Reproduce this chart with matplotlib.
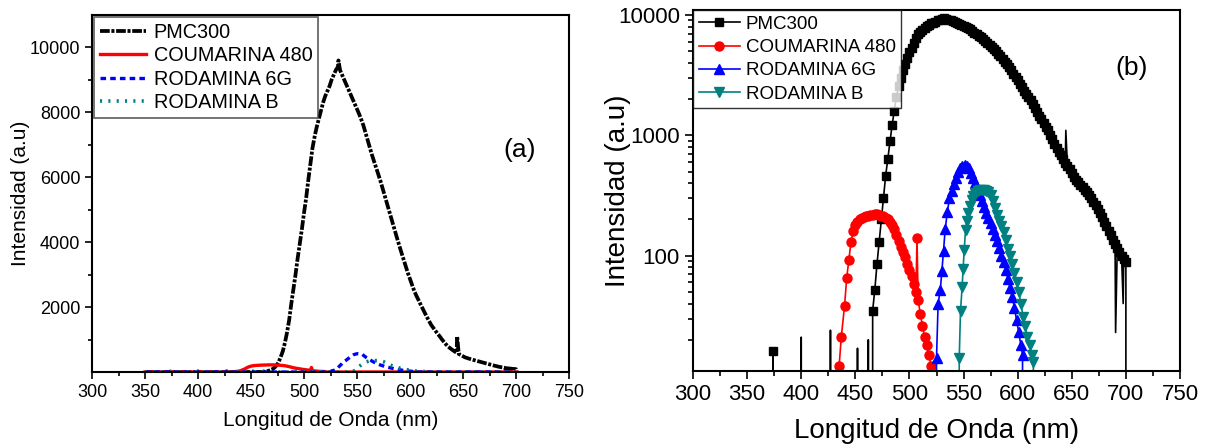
import numpy as np
import matplotlib
matplotlib.use("Agg")
import matplotlib.pyplot as plt
from matplotlib.ticker import MultipleLocator, FixedLocator, NullFormatter, FuncFormatter

plt.rcParams['font.family'] = ['Liberation Sans', 'DejaVu Sans']
plt.rcParams['lines.scale_dashes'] = False

# PMC300 spectrum, 2 nm grid
pmc_grid_wl = np.arange(464, 702, 2)
pmc_grid_val = [0, 35, 52, 85, 130, 200, 300, 460, 640, 900,
                1220, 1600, 2100, 2550, 3000, 3500, 3950, 4400, 4900, 5350,
                5900, 6400, 6900, 7250, 7550, 7800, 8050, 8300, 8500, 8650,
                8800, 9000, 9150, 9300, 9400, 9300, 9150, 9000, 8850, 8700,
                8550, 8400, 8250, 8100, 7950, 7780, 7600, 7380, 7150, 6920,
                6700, 6500, 6300, 6100, 5900, 5680, 5450, 5220, 5000, 4780,
                4550, 4320, 4100, 3880, 3670, 3460, 3250, 3050, 2860, 2680,
                2500, 2350, 2220, 2080, 1950, 1820, 1690, 1570, 1450, 1360,
                1270, 1180, 1100, 1010, 930, 850, 780, 730, 680, 635,
                590, 555, 520, 485, 450, 428, 408, 388, 370, 352,
                335, 318, 300, 280, 262, 243, 225, 208, 192, 176,
                160, 148, 136, 125, 115, 108, 100, 94, 88]
# baseline and noise spikes of PMC300
pmc_base_wl = [350, 373, 375, 399, 401, 426, 428, 451, 453, 461, 463]
pmc_spike_wl = [374, 400, 427, 452, 462, 532.5, 644.5, 690.5, 697.5, 701]
pmc_spike_val = [16, 21, 24, 17, 20, 9600, 1100, 23, 40, 0]

cou_wl = [350, 434, 435, 437, 440, 442, 444, 446, 448, 450,
          452, 454, 456, 458, 460, 462, 464, 466, 468, 470,
          472, 474, 476, 478, 480, 482, 484, 486, 488, 490,
          492, 494, 496, 498, 500, 502, 504, 506, 507, 508,
          510, 512, 514, 516, 518, 520, 521, 700]
cou_val = [0, 0, 12, 21, 38, 65, 92, 130, 160, 180,
           192, 200, 205, 208, 212, 214, 216, 218, 220, 220,
           218, 215, 212, 206, 200, 192, 180, 165, 148, 132,
           118, 107, 97, 86, 76, 68, 58, 50, 140, 43,
           33, 26, 21, 18, 15, 12, 0, 0]

r6g_wl = [350, 524, 525, 526.5, 528.5, 530, 531.5, 533, 535, 537,
          539, 541, 543, 545, 547, 549, 551, 553, 555, 557,
          559, 561, 563, 565, 567, 569, 571, 573, 575, 577,
          579, 581, 583, 585, 587, 589, 591, 593, 595, 597,
          599, 601, 603, 604.5, 605.5, 700]
r6g_val = [0, 0, 14, 40, 52, 75, 110, 165, 230, 300,
           345, 395, 445, 495, 535, 555, 566, 560, 540, 490,
           440, 400, 360, 320, 285, 255, 228, 205, 185, 165,
           148, 132, 116, 100, 88, 76, 64, 54, 45, 37,
           29, 23, 18, 15, 0, 0]

rb_wl = [350, 545, 546, 547.2, 548.7, 549.6, 550.6, 551.8, 553, 554.3,
         556, 557.4, 559, 561, 563, 565, 567, 569, 571, 573,
         575, 577, 579, 581, 583, 585, 587, 589, 591, 593,
         595, 597, 599, 601, 603, 605, 607, 609, 611, 613,
         614.5, 615.5, 700]
rb_val = [0, 0, 14, 35, 55, 78, 111, 163, 195, 225,
          260, 290, 315, 333, 342, 348, 351, 350, 345, 336,
          318, 285, 250, 218, 195, 175, 158, 135, 114, 100,
          86, 72, 60, 50, 40, 31, 26, 21, 18, 15,
          13, 0, 0]

labels = ['PMC300', 'COUMARINA 480', 'RODAMINA 6G', 'RODAMINA B']
colors = ['black', '#ff0000', '#0000ff', '#008080']

# merge PMC300 pieces
pmc_wl = np.concatenate([pmc_grid_wl, pmc_base_wl, pmc_spike_wl])
pmc_val = np.concatenate([pmc_grid_val, np.zeros(len(pmc_base_wl)), pmc_spike_val])
order = np.argsort(pmc_wl, kind='stable')
pmc_wl = pmc_wl[order]
pmc_val = pmc_val[order]
is_grid = np.concatenate([np.ones(len(pmc_grid_wl), bool), np.zeros(len(pmc_base_wl), bool),
                          np.array([w == 374 for w in pmc_spike_wl])])[order]

fig = plt.figure(figsize=(12.05, 4.47), dpi=100)
ax1 = fig.add_axes([92 / 1205, 75 / 447, 477 / 1205, 357 / 447])
ax2 = fig.add_axes([693 / 1205, 76 / 447, 487 / 1205, 361 / 447])

# ---- (a) linear
ax1.plot(pmc_wl, pmc_val, color='black', lw=2.7, dashes=(7, 1.2, 2.2, 1.2), label=labels[0])
ax1.plot(cou_wl, cou_val, color=colors[1], lw=2.4, label=labels[1])
ax1.plot(r6g_wl, r6g_val, color=colors[2], lw=2.4, dashes=(4, 3), label=labels[2])
ax1.plot(rb_wl, rb_val, color=colors[3], lw=2.6, dashes=(1.5, 4.5), label=labels[3])

ax1.set_xlim(300, 750)
ax1.set_ylim(0, 11000)
ax1.xaxis.set_major_locator(MultipleLocator(50))
ax1.xaxis.set_minor_locator(MultipleLocator(25))
ax1.yaxis.set_major_locator(FixedLocator([2000, 4000, 6000, 8000, 10000]))
ax1.yaxis.set_minor_locator(FixedLocator([1000, 3000, 5000, 7000, 9000]))
ax1.tick_params(which='both', direction='out', labelsize=13, width=1.2)
ax1.tick_params(which='major', length=5)
ax1.tick_params(which='minor', length=3)
ax1.set_xlabel('Longitud de Onda (nm)', fontsize=15)
ax1.set_ylabel('Intensidad (a.u)', fontsize=15)
ax1.xaxis.set_label_coords(0.5, -0.11)
ax1.yaxis.set_label_coords(-0.13, 0.5)
for s in ax1.spines.values():
    s.set_linewidth(1.5)
ax1.text(0.897, 0.622, '(a)', transform=ax1.transAxes, fontsize=19, ha='center', va='center')
leg1 = ax1.legend(loc='upper left', fontsize=14.3, fancybox=False, borderaxespad=0.1,
                  handlelength=2.3, handletextpad=0.4, labelspacing=0.22, borderpad=0.3)
leg1.get_frame().set_edgecolor('#444444')
leg1.get_frame().set_linewidth(1.3)

# ---- (b) log
ax2.set_yscale('log')
ax2.plot(pmc_wl, pmc_val, color='black', lw=1.2, marker='s', ms=5.5, markevery=list(is_grid), label=labels[0])
ax2.plot(cou_wl, cou_val, color=colors[1], lw=1.2, marker='o', ms=6.5, label=labels[1])
ax2.plot(r6g_wl, r6g_val, color=colors[2], lw=1.2, marker='^', ms=6.5, label=labels[2])
ax2.plot(rb_wl, rb_val, color=colors[3], lw=1.2, marker='v', ms=6.5, label=labels[3])

ax2.set_xlim(300, 750)
ax2.set_ylim(11, 11000)
ax2.xaxis.set_major_locator(MultipleLocator(50))
ax2.xaxis.set_minor_locator(MultipleLocator(25))
ax2.yaxis.set_major_formatter(FuncFormatter(lambda v, p: '%d' % v))
ax2.yaxis.set_minor_formatter(NullFormatter())
ax2.tick_params(which='both', direction='out', labelsize=16, width=1.2)
ax2.tick_params(which='major', length=6)
ax2.tick_params(which='minor', length=3.5)
ax2.set_xlabel('Longitud de Onda (nm)', fontsize=20)
ax2.set_ylabel('Intensidad (a.u)', fontsize=20)
ax2.xaxis.set_label_coords(0.5, -0.13)
ax2.yaxis.set_label_coords(-0.128, 0.5)
for s in ax2.spines.values():
    s.set_linewidth(1.5)
ax2.text(0.901, 0.839, '(b)', transform=ax2.transAxes, fontsize=19, ha='center', va='center')
leg2 = ax2.legend(loc='upper left', fontsize=13.5, fancybox=False, borderaxespad=0,
                  handlelength=2.2, handletextpad=0.3, labelspacing=0.33, borderpad=0.3)
leg2.get_frame().set_edgecolor('black')
leg2.get_frame().set_linewidth(1.0)

fig.savefig('out.png', dpi=100)
